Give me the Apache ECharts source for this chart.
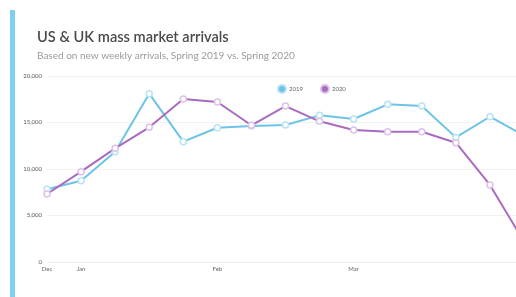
<!DOCTYPE html>
<html>
<head>
<meta charset="utf-8">
<script src="https://cdn.jsdelivr.net/npm/echarts@6/dist/echarts.min.js"></script>
<style>
  html, body { margin: 0; padding: 0; background: #fff; }
  #bar { position: absolute; left: 10px; top: 10px; width: 5px; height: 287px; background: #7fcff0; }
  #chart { width: 516px; height: 297px; }
</style>
</head>
<body>
<div id="bar"></div>
<div id="chart"></div>
<script>
// weekly categories, first week of each month gets a label
var weeks = ['Dec 30', 'Jan 6', 'Jan 13', 'Jan 20', 'Jan 27', 'Feb 3', 'Feb 10', 'Feb 17', 'Feb 24',
             'Mar 3', 'Mar 10', 'Mar 17', 'Mar 24', 'Mar 31', 'Apr 7'];
var tickLabels = ['Dec', 'Jan', '', '', '', 'Feb', '', '', '', 'Mar', '', '', '', '', ''];
var arrivals2019 = [7820, 8740, 11860, 18100, 12940, 14440, 14620, 14730, 15770, 15380, 16950, 16770, 13400, 15620, 13600];
var arrivals2020 = [7310, 9710, 12220, 14480, 17530, 17200, 14700, 16770, 15130, 14190, 14010, 14010, 12830, 8280, 2180];
var yTicks = [0, 5000, 10000, 15000, 20000];

var dom = document.getElementById('chart');
var myChart = echarts.init(dom);

function seriesFor(name, data, color, pale) {
  return {
    name: name,
    type: 'line',
    data: data,
    symbol: 'circle',
    symbolSize: 6,
    showAllSymbol: true,
    lineStyle: { color: color, width: 2 },
    itemStyle: { color: '#fff', borderColor: pale, borderWidth: 1.5 },
    emphasis: { disabled: true }
  };
}

var option = {
  animation: false,
  title: {
    text: 'US & UK mass market arrivals',
    subtext: 'Based on new weekly arrivals, Spring 2019 vs. Spring 2020',
    left: 32,
    top: 25,
    itemGap: 6,
    textStyle: { fontFamily: 'Lato', fontSize: 14.6, fontWeight: 600, color: '#4a4a4a' },
    subtextStyle: { fontFamily: 'Lato', fontSize: 10, color: '#9a9a9a' }
  },
  legend: {
    data: [
      { name: '2019', itemStyle: { color: '#6cc3e5' } },
      { name: '2020', itemStyle: { color: '#a86bc0' } }
    ],
    icon: 'circle',
    itemWidth: 8,
    itemHeight: 8,
    itemGap: 17,
    left: 272,
    top: 79,
    textStyle: { fontFamily: 'Lato', fontSize: 6, color: '#666', padding: [0, 0, 0, -2] }
  },
  grid: {
    left: 47,
    top: 76,
    width: 477,
    height: 186,
    outerBoundsMode: 'none'
  },
  xAxis: {
    type: 'category',
    boundaryGap: false,
    data: weeks,
    axisLine: { show: true, lineStyle: { color: '#eeeeee' } },
    axisTick: { show: false },
    axisLabel: {
      interval: 0,
      fontFamily: 'Lato',
      fontSize: 6,
      color: '#666',
      margin: 4,
      formatter: function (v, i) { return tickLabels[i]; }
    }
  },
  yAxis: {
    type: 'value',
    min: yTicks[0],
    max: yTicks[yTicks.length - 1],
    interval: 5000,
    axisLine: { show: false },
    axisTick: { show: false },
    splitLine: { lineStyle: { color: '#f2f2f2', width: 1 } },
    axisLabel: {
      fontFamily: 'Lato',
      fontSize: 6,
      color: '#555',
      margin: 5,
      formatter: function (v) { return v.toLocaleString('en-US'); }
    }
  },
  series: [
    seriesFor('2019', arrivals2019, '#6cc3e5', '#b9e3f4'),
    seriesFor('2020', arrivals2020, '#a86bc0', '#dcc2e8')
  ]
};
myChart.setOption(option, true);
</script>
</body>
</html>
